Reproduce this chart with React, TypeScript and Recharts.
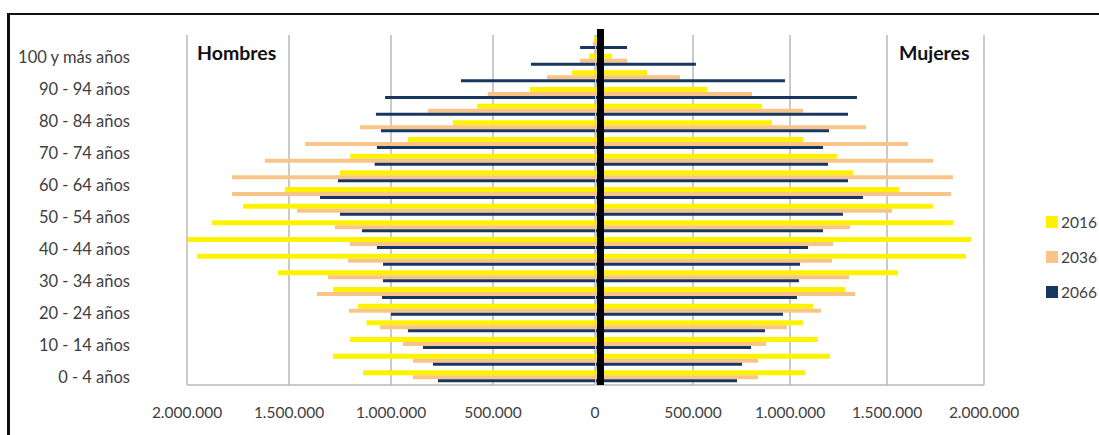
import { BarChart, Bar, XAxis, YAxis, CartesianGrid, Legend } from "recharts";

// Grupos de edad, de menor a mayor
const grupos = [
  "0 - 4 años", "5 - 9 años", "10 - 14 años", "15 - 19 años", "20 - 24 años",
  "25 - 29 años", "30 - 34 años", "35 - 39 años", "40 - 44 años", "45 - 49 años",
  "50 - 54 años", "55 - 59 años", "60 - 64 años", "65 - 69 años", "70 - 74 años",
  "75 - 79 años", "80 - 84 años", "85 - 89 años", "90 - 94 años", "95 - 99 años",
  "100 y más años",
];

// Hombres
const hombres2016 = [
  1137000, 1284000, 1201000, 1120000, 1162000, 1284000, 1554000, 1951000, 1995000, 1877000,
  1725000, 1520000, 1250000, 1200000, 917000, 696000, 578000, 319000, 113000, 30000, 5000,
];
const hombres2036 = [
  892000, 892000, 941000, 1054000, 1206000, 1363000, 1309000, 1211000, 1201000, 1275000,
  1461000, 1779000, 1779000, 1618000, 1421000, 1152000, 819000, 525000, 235000, 73000, 10000,
];
const hombres2066 = [
  770000, 794000, 843000, 917000, 1000000, 1044000, 1039000, 1039000, 1069000, 1142000,
  1250000, 1348000, 1260000, 1080000, 1069000, 1049000, 1074000, 1029000, 657000, 314000, 73000,
];

// Mujeres
const mujeres2016 = [
  1077000, 1206000, 1144000, 1067000, 1119000, 1284000, 1557000, 1907000, 1933000, 1840000,
  1737000, 1562000, 1325000, 1242000, 1067000, 907000, 856000, 572000, 263000, 82000, 13000,
];
const mujeres2036 = [
  835000, 835000, 876000, 985000, 1160000, 1335000, 1304000, 1217000, 1222000, 1309000,
  1526000, 1830000, 1840000, 1737000, 1608000, 1392000, 1067000, 804000, 433000, 160000, 40000,
];
const mujeres2066 = [
  727000, 753000, 799000, 871000, 964000, 1036000, 1046000, 1052000, 1093000, 1170000,
  1273000, 1376000, 1299000, 1196000, 1170000, 1201000, 1299000, 1345000, 974000, 515000, 160000,
];

const ticksHombres = [0, 500000, 1000000, 1500000, 2000000];
const ticksMujeres = [500000, 1000000, 1500000, 2000000];

const AMARILLO = "#FFF200";
const NARANJA = "#F9C48A";
const AZUL = "#17375E";
const GRIS = "#b8b8b8";
const TEXTO = "#404040";
const FUENTE = "Lato, 'Open Sans', sans-serif";

// filas de arriba (100 y más) hacia abajo (0 - 4)
const filas = grupos
  .map((g, i) => ({
    grupo: g,
    h2016: hombres2016[i],
    h2036: hombres2036[i],
    h2066: hombres2066[i],
    m2016: mujeres2016[i],
    m2036: mujeres2036[i],
    m2066: mujeres2066[i],
  }))
  .reverse();

const miles = (v: number) => String(v).replace(/\B(?=(\d{3})+(?!\d))/g, ".");

const tickNum = { fontSize: 15.5, fill: TEXTO, fontFamily: FUENTE };

function LeyendaAnios({ payload }: any) {
  return (
    <div style={{ fontFamily: FUENTE, fontSize: 15.5, color: TEXTO, whiteSpace: "nowrap" }}>
      {(payload || []).map((p: any) => (
        <div key={p.value} style={{ display: "flex", alignItems: "center", height: 35 }}>
          <span style={{ width: 12, height: 12, background: p.color, marginRight: 3, display: "inline-block" }} />
          <span>{p.value}</span>
        </div>
      ))}
    </div>
  );
}

const titulo = {
  position: "absolute" as const,
  top: 42,
  fontSize: 19.5,
  lineHeight: "22px",
  fontWeight: 700,
  color: "#111",
};

export default function App() {
  return (
    <div
      style={{
        position: "absolute",
        left: 0,
        top: 0,
        width: 1099,
        height: 435,
        overflow: "hidden",
        background: "#fff",
        fontFamily: FUENTE,
      }}
    >
      {/* marco */}
      <div
        style={{
          position: "absolute",
          left: 7,
          top: 13,
          width: 1110,
          height: 440,
          borderLeft: "3px solid #111",
          borderTop: "2px solid #111",
        }}
      />

      {/* hombres */}
      <div style={{ position: "absolute", left: 0, top: 0 }}>
        <BarChart
          width={600}
          height={435}
          data={filas}
          layout="vertical"
          barGap={0}
          margin={{ top: 35, right: 5, bottom: 20, left: 0 }}
        >
          <CartesianGrid horizontal={false} stroke={GRIS} strokeWidth={1.5} yAxisId="barras" />
          <XAxis
            type="number"
            domain={[0, 2000000]}
            ticks={ticksHombres}
            reversed
            tickFormatter={miles}
            tick={tickNum}
            tickLine={false}
            tickSize={0}
            tickMargin={22}
            height={30}
            axisLine={{ stroke: GRIS, strokeWidth: 1.5 }}
          />
          <YAxis yAxisId="barras" type="category" dataKey="grupo" width={0} hide />
          <YAxis
            yAxisId="etiquetas"
            type="category"
            dataKey="grupo"
            width={187}
            padding={{ top: 14, bottom: 0 }}
            interval={1}
            axisLine={false}
            tickLine={false}
            tickSize={0}
            tickMargin={57}
            tick={{ fontSize: 16.5, fill: TEXTO, fontFamily: FUENTE }}
          />
          <Bar yAxisId="barras" dataKey="h2016" name="2016" fill={AMARILLO} barSize={5} isAnimationActive={false} />
          <Bar yAxisId="barras" dataKey="h2036" name="2036" fill={NARANJA} barSize={4} isAnimationActive={false} />
          <Bar yAxisId="barras" dataKey="h2066" name="2066" fill={AZUL} barSize={3} isAnimationActive={false} />
        </BarChart>
      </div>

      {/* mujeres */}
      <div style={{ position: "absolute", left: 596, top: 0 }}>
        <BarChart
          width={503}
          height={435}
          data={filas}
          layout="vertical"
          barGap={0}
          margin={{ top: 35, right: 115, bottom: 20, left: 0 }}
        >
          <CartesianGrid horizontal={false} stroke={GRIS} strokeWidth={1.5} />
          <XAxis
            type="number"
            domain={[0, 2000000]}
            ticks={ticksMujeres}
            tickFormatter={miles}
            tick={tickNum}
            tickLine={false}
            tickSize={0}
            tickMargin={22}
            height={30}
            axisLine={{ stroke: GRIS, strokeWidth: 1.5 }}
          />
          <YAxis type="category" dataKey="grupo" width={0} hide />
          <Bar dataKey="m2016" name="2016" fill={AMARILLO} barSize={5} isAnimationActive={false} />
          <Bar dataKey="m2036" name="2036" fill={NARANJA} barSize={4} isAnimationActive={false} />
          <Bar dataKey="m2066" name="2066" fill={AZUL} barSize={3} isAnimationActive={false} />
          <Legend
            layout="vertical"
            align="center"
            verticalAlign="middle"
            content={<LeyendaAnios />}
            wrapperStyle={{ left: 450, top: 204, width: 53 }}
          />
        </BarChart>
      </div>

      {/* eje central */}
      <div style={{ position: "absolute", left: 597, top: 29, width: 7, height: 356, background: "#000" }} />

      <div style={{ ...titulo, left: 197 }}>Hombres</div>
      <div style={{ ...titulo, left: 899 }}>Mujeres</div>
    </div>
  );
}
